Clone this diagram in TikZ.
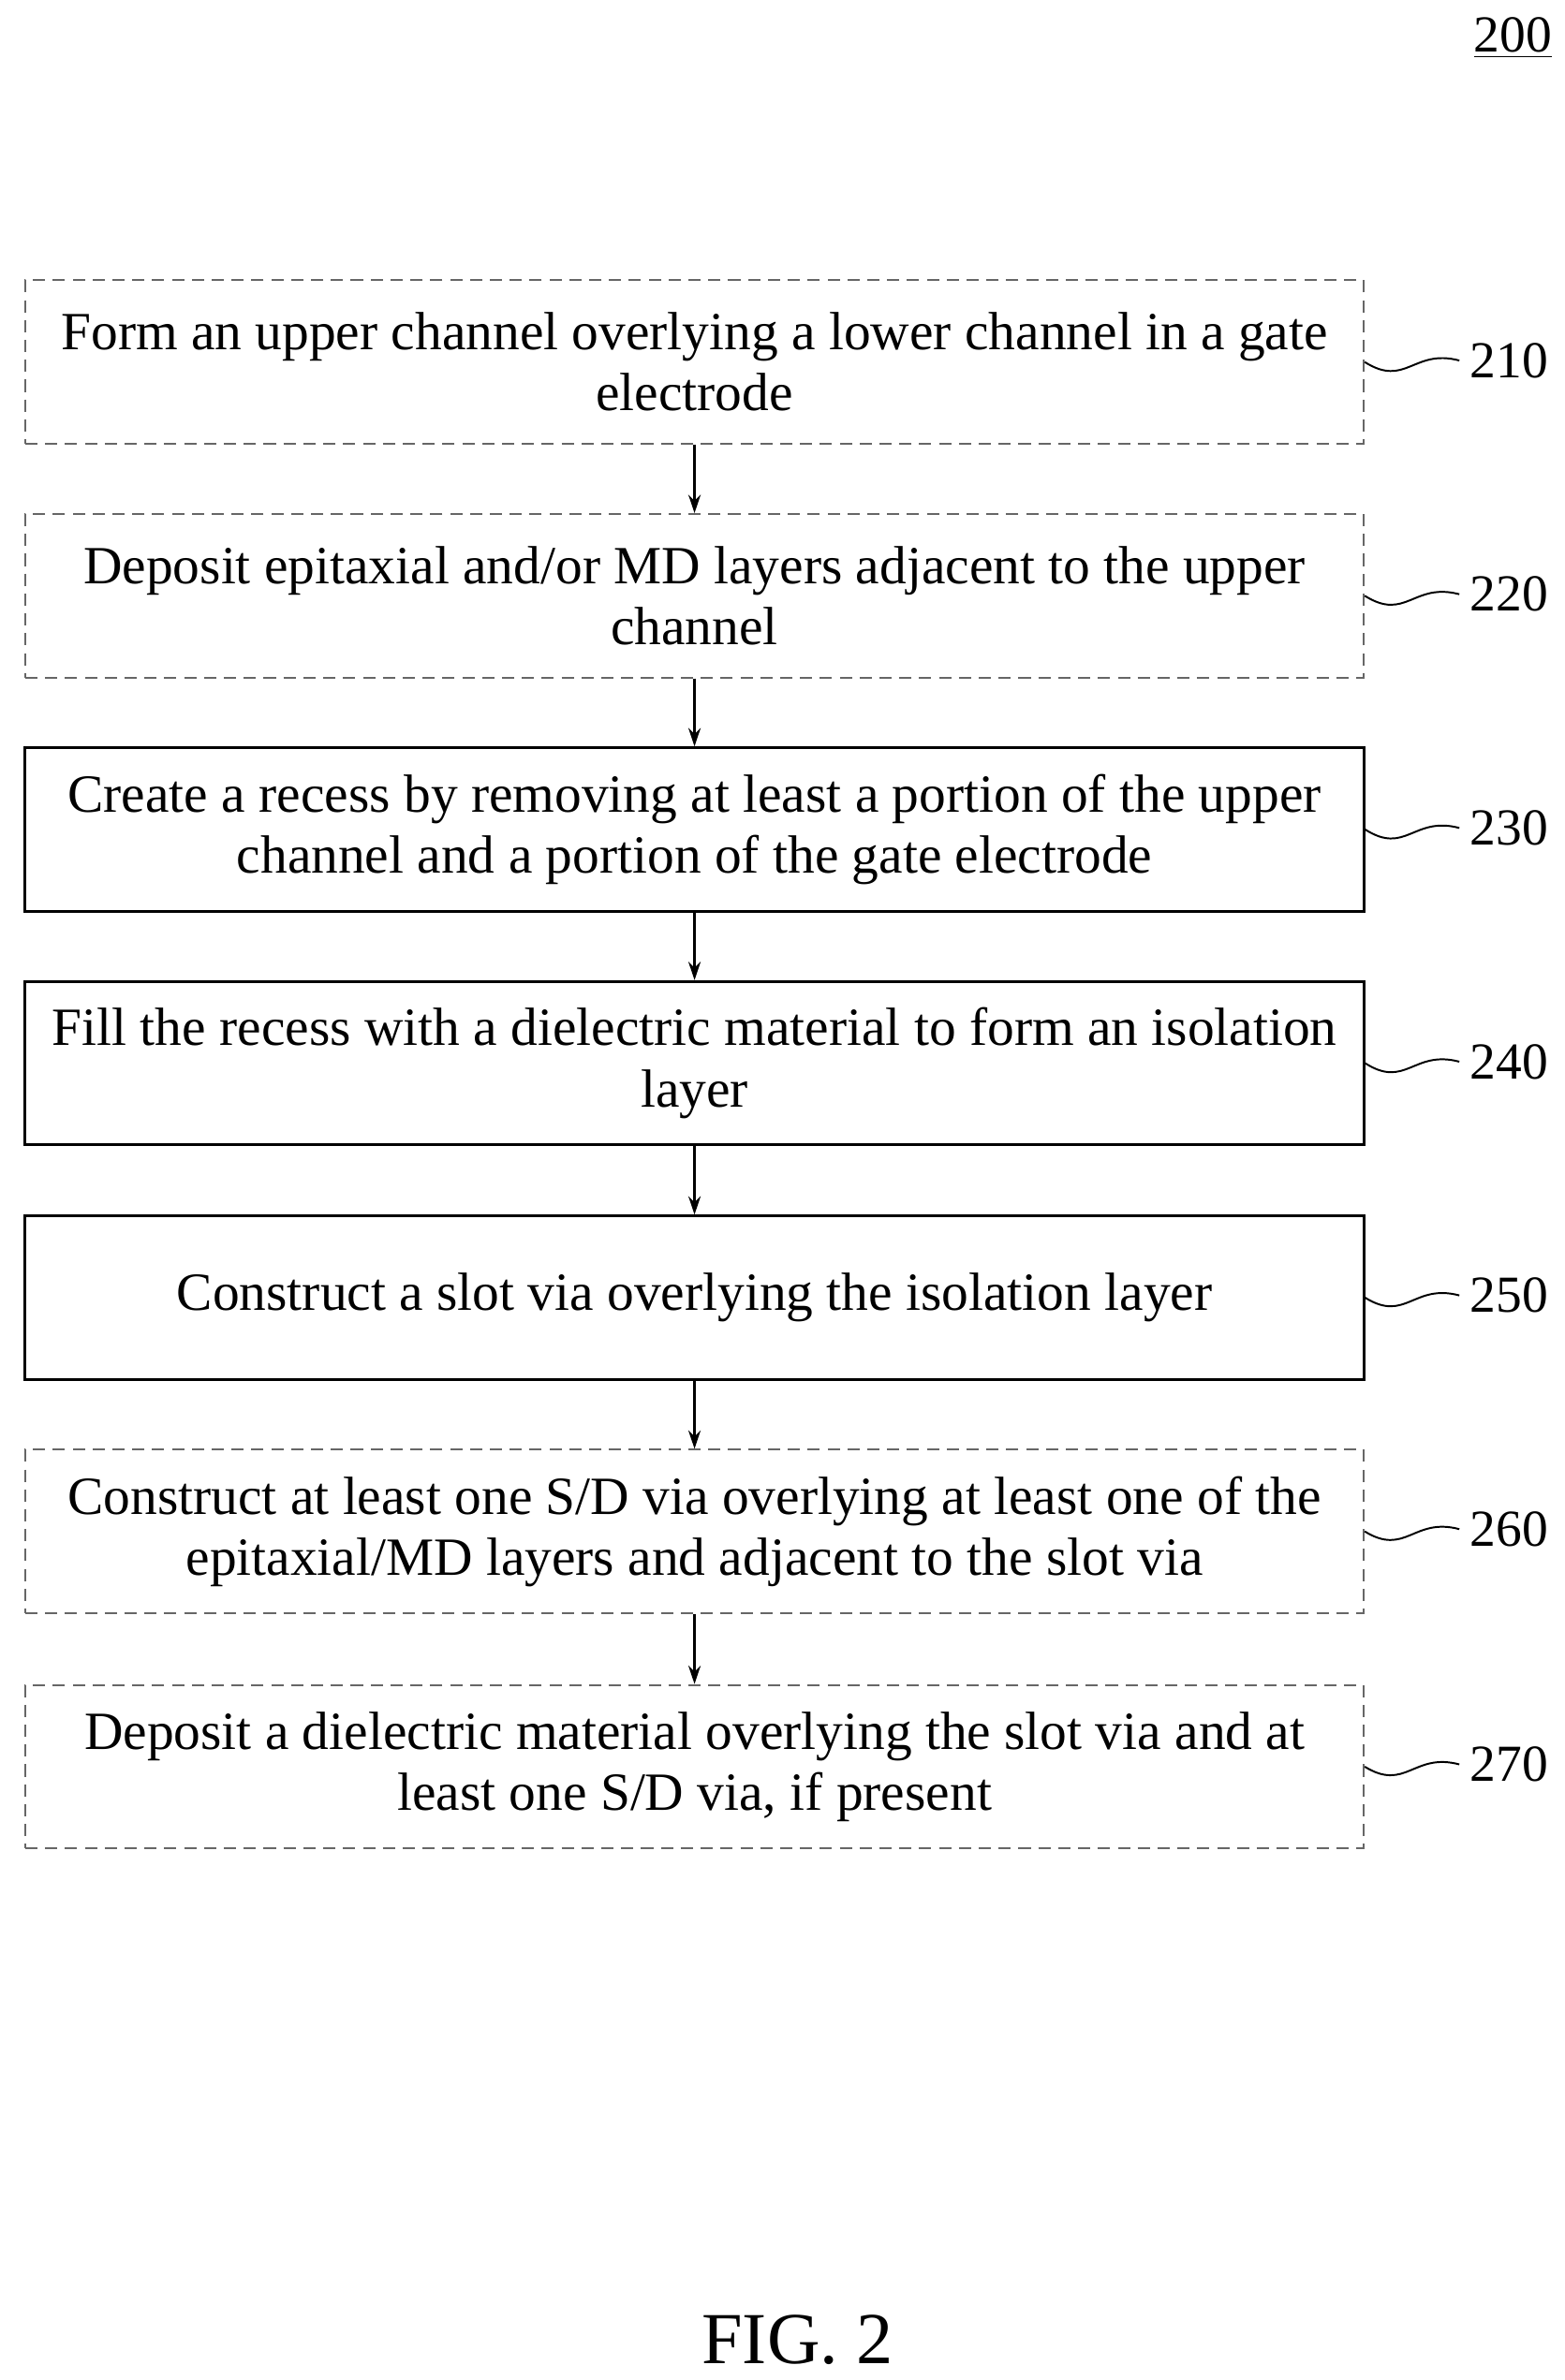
\documentclass[tikz,border=0pt]{standalone}
\usepackage{fontspec}
\setmainfont{Liberation Serif}
\usetikzlibrary{arrows.meta}
\begin{document}
\begin{tikzpicture}[x=0.5pt,y=-0.5pt,
  box/.style={draw,line width=0.9pt,minimum width=438pt,minimum height=53.5pt,align=center,inner sep=0pt,font=\fontsize{17.6}{20}\selectfont},
  dbox/.style={box,draw=black!60,dash pattern=on 4pt off 2.5pt,line width=0.6pt},
  lab/.style={font=\fontsize{17}{20}\selectfont,anchor=west},
  arr/.style={-{Stealth[length=6pt,width=4pt]},line width=0.8pt},
  sq/.style={line width=0.6pt}]
\useasboundingbox (0,0) rectangle (1024,1558);
\node[font=\fontsize{17}{20}\selectfont] (n200) at (990,25) {\underline{200}};
\node[dbox] (b210) at (454.5,237) {Form an upper channel overlying a lower channel in a gate\\electrode};
\node[dbox] (b220) at (454.5,390) {Deposit epitaxial and/or MD layers adjacent to the upper\\channel};
\node[box] (b230) at (454.5,543) {Create a recess by removing at least a portion of the upper\\channel and a portion of the gate electrode};
\node[box] (b240) at (454.5,696) {Fill the recess with a dielectric material to form an isolation\\layer};
\node[box] (b250) at (454.5,849.5) {Construct a slot via overlying the isolation layer};
\node[dbox] (b260) at (454.5,1002.5) {Construct at least one S/D via overlying at least one of the\\epitaxial/MD layers and adjacent to the slot via};
\node[dbox] (b270) at (454.5,1156.5) {Deposit a dielectric material overlying the slot via and at\\least one S/D via, if present};
\foreach \a/\b in {b210/b220,b220/b230,b230/b240,b240/b250,b250/b260,b260/b270}
  \draw[arr] (\a.south) -- (\b.north);
\foreach \n/\y in {210/236,220/389,230/542,240/695,250/848,260/1001,270/1155}{
  \node[lab] (l\n) at (955,\y) {\n};
  \draw[sq] (b\n.east) .. controls (920,\y+18) and (925,\y-8) .. (l\n.west);
}
\node[font=\fontsize{24}{28}\selectfont] (fig) at (522,1532) {FIG. 2};
\end{tikzpicture}
\end{document}
